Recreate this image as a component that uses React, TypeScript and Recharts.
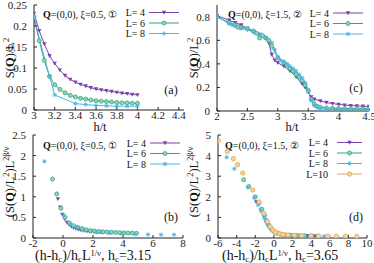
import React from 'react';
import { LineChart, Line, ScatterChart, Scatter, XAxis, YAxis } from 'recharts';

// ---- panel (a): S(Q)/L^2 vs h/t, xi = 0.5 ----
const hA = [3.0, 3.05, 3.1, 3.15, 3.2, 3.25, 3.3, 3.35, 3.4, 3.45, 3.5, 3.55, 3.6, 3.65, 3.7, 3.75, 3.8, 3.85, 3.9, 3.95, 4.0];
const sA4 = [0.23, 0.189, 0.157, 0.129, 0.111, 0.095, 0.082, 0.073, 0.066, 0.061, 0.057, 0.053, 0.05, 0.048, 0.046, 0.044, 0.042, 0.04, 0.039, 0.037, 0.036];
const sA6 = [0.222, 0.165, 0.118, 0.08, 0.06, 0.049, 0.041, 0.035, 0.031, 0.028, 0.026, 0.024, 0.022, 0.021, 0.02, 0.019, 0.018, 0.017, 0.017, 0.016, 0.016];
const hA8 = [3.0, 3.15, 3.2, 3.4, 3.5, 3.6, 3.7, 3.8, 3.9, 4.0];
const sA8 = [0.218, 0.08, 0.036, 0.015, 0.013, 0.011, 0.01, 0.009, 0.009, 0.009];
const ticksAx = [3, 3.2, 3.4, 3.6, 3.8, 4, 4.2, 4.4];
const ticksAy = [0, 0.05, 0.1, 0.15, 0.2, 0.25];

// ---- panel (c): S(Q)/L^2 vs h/t, xi = 1.5 ----
const hC4 = [2.0, 2.2, 2.3, 2.4, 2.5, 2.6, 2.7, 2.8, 2.85, 2.9, 2.95, 3.0, 3.1, 3.2, 3.3, 3.4, 3.45, 3.5, 3.55, 3.6, 3.7, 3.8, 3.9, 4.0, 4.1, 4.2, 4.3, 4.4, 4.5];
const sC4 = [0.81, 0.77, 0.75, 0.73, 0.7, 0.67, 0.65, 0.62, 0.58, 0.48, 0.43, 0.41, 0.38, 0.34, 0.29, 0.23, 0.2, 0.16, 0.12, 0.1, 0.085, 0.072, 0.063, 0.056, 0.05, 0.046, 0.043, 0.04, 0.038];
const hC6 = [2.0, 2.2, 2.3, 2.35, 2.4, 2.5, 2.6, 2.65, 2.7, 2.75, 2.8, 2.85, 2.9, 3.0, 3.1, 3.15, 3.2, 3.25, 3.3, 3.35, 3.4, 3.45, 3.5, 3.55, 3.6, 3.65, 3.7, 3.8, 3.9, 4.0, 4.1, 4.2, 4.3, 4.4, 4.5];
const sC6 = [0.8, 0.75, 0.73, 0.71, 0.71, 0.7, 0.68, 0.66, 0.62, 0.64, 0.62, 0.6, 0.55, 0.45, 0.41, 0.39, 0.36, 0.34, 0.31, 0.29, 0.26, 0.22, 0.17, 0.1, 0.06, 0.04, 0.032, 0.026, 0.023, 0.021, 0.02, 0.02, 0.02, 0.02, 0.02];
const hC8 = [2.0, 2.2, 2.25, 2.3, 2.4, 2.5, 2.6, 2.7, 2.8, 2.9, 2.95, 3.0, 3.05, 3.1, 3.15, 3.2, 3.25, 3.3, 3.35, 3.4, 3.45, 3.5, 3.55, 3.6, 3.65, 3.7, 3.8, 3.9, 4.0, 4.1, 4.2, 4.3, 4.4, 4.5];
const sC8 = [0.8, 0.74, 0.73, 0.72, 0.7, 0.69, 0.67, 0.65, 0.62, 0.58, 0.52, 0.46, 0.43, 0.42, 0.4, 0.38, 0.36, 0.34, 0.31, 0.28, 0.24, 0.18, 0.09, 0.045, 0.028, 0.02, 0.015, 0.013, 0.012, 0.012, 0.012, 0.012, 0.012, 0.012];
const ticksCx = [2, 2.5, 3, 3.5, 4, 4.5];
const ticksCy = [0, 0.2, 0.4, 0.6, 0.8];

// ---- panel (b): scaling collapse, hc = 3.15 ----
const xB4 = [-0.34, -0.19, -0.04, 0.11, 0.26, 0.41, 0.56, 0.71, 0.86, 1.01, 1.16, 1.31, 1.46, 1.61, 1.76, 1.91, 2.06, 2.21, 2.36, 2.51, 2.66];
const yB4 = [0.95, 0.75, 0.57, 0.46, 0.38, 0.32, 0.28, 0.25, 0.23, 0.21, 0.2, 0.19, 0.18, 0.17, 0.165, 0.16, 0.155, 0.15, 0.15, 0.145, 0.14];
const xB6 = [-0.7, -0.42, -0.14, 0.14, 0.42, 0.7, 0.98, 1.26, 1.54, 1.82, 2.1, 2.38, 2.66, 2.94, 3.22, 3.5, 3.78, 4.06, 4.34, 4.62, 4.9];
const yB6 = [1.43, 1.07, 0.72, 0.5, 0.37, 0.3, 0.26, 0.23, 0.2, 0.18, 0.17, 0.16, 0.15, 0.145, 0.14, 0.135, 0.13, 0.125, 0.12, 0.12, 0.115];
const xB8 = [-1.24, 0.06, 0.49, 0.92, 1.35, 2.22, 3.08, 3.94, 4.8, 5.67, 6.54, 7.4];
const yB8 = [1.86, 0.55, 0.33, 0.24, 0.19, 0.14, 0.12, 0.1, 0.09, 0.085, 0.08, 0.08];
const ticksBx = [-2, 0, 2, 4, 6, 8];
const ticksBy = [0, 0.5, 1, 1.5, 2, 2.5];

// ---- panel (d): scaling collapse, hc = 3.65 ----
const xD4 = [-1.9, -1.4, -1.1, -0.85, -0.6, -0.3, 0.0, 0.35, 0.7, 1.1, 1.6, 2.2, 2.9, 3.6, 4.4];
const yD4 = [1.75, 1.35, 1.05, 0.75, 0.55, 0.4, 0.3, 0.23, 0.19, 0.16, 0.14, 0.13, 0.12, 0.11, 0.1];
const xD6 = [-3.24, -2.7, -2.0, -1.6, -1.3, -1.0, -0.8, -0.55, -0.3, 0.0, 0.3, 0.7, 1.2, 1.8, 2.5, 3.3, 4.1];
const yD6 = [2.83, 2.5, 2.0, 1.7, 1.4, 1.1, 0.85, 0.62, 0.45, 0.32, 0.24, 0.19, 0.15, 0.13, 0.12, 0.11, 0.1];
const xD8 = [-5.07, -4.25, -2.8, -2.1, -1.7, -1.35, -1.0, -0.7, -0.45, -0.2, 0.1, 0.5, 1.0, 1.6, 2.3, 3.1, 3.9, 4.7, 5.4];
const yD8 = [3.92, 3.36, 2.46, 1.95, 1.6, 1.3, 0.95, 0.7, 0.5, 0.38, 0.27, 0.2, 0.16, 0.14, 0.12, 0.11, 0.1, 0.1, 0.09];
const xD10 = [-5.97, -5.0, -4.35, -3.9, -3.35, -2.26, -1.6, -1.1, -0.7, -0.4, -0.1, 0.2, 0.6, 1.0, 1.5, 2.2, 3.0, 4.0, 4.8, 5.8, 6.7, 7.7, 8.9];
const yD10 = [4.72, 4.2, 3.85, 3.56, 3.15, 2.33, 1.75, 1.2, 0.8, 0.55, 0.38, 0.28, 0.2, 0.17, 0.15, 0.13, 0.12, 0.11, 0.1, 0.09, 0.09, 0.09, 0.08];
const ticksDx = [-6, -4, -2, 0, 2, 4, 6, 8, 10];
const ticksDy = [0, 1, 2, 3, 4, 5];

const zip = (xs: number[], ys: number[]) => xs.map((x, i) => ({ x, y: ys[i] }));

const PURPLE = '#7d43a8';
const GREEN = '#30a57d';
const BLUE = '#4fb3e6';
const ORANGE = '#e5a552';
const FONT = '"Liberation Serif", "Times New Roman", serif';
const AXIS = '#222';

// markers
const TriDown = ({ cx, cy }: any) => (
  <polygon points={`${cx - 2.2},${cy - 1.7} ${cx + 2.2},${cy - 1.7} ${cx},${cy + 2.2}`} fill={PURPLE} />
);
const Circ = ({ cx, cy }: any) => (
  <circle cx={cx} cy={cy} r={2} fill="#93d5bb" stroke={GREEN} strokeWidth={0.8} />
);
const Star = ({ cx, cy }: any) => (
  <g stroke={BLUE} strokeWidth={0.9}>
    <line x1={cx - 2.2} y1={cy} x2={cx + 2.2} y2={cy} />
    <line x1={cx} y1={cy - 2.2} x2={cx} y2={cy + 2.2} />
    <line x1={cx - 1.6} y1={cy - 1.6} x2={cx + 1.6} y2={cy + 1.6} />
    <line x1={cx - 1.6} y1={cy + 1.6} x2={cx + 1.6} y2={cy - 1.6} />
  </g>
);
const OCirc = ({ cx, cy }: any) => (
  <circle cx={cx} cy={cy} r={2.2} fill="#f4d3a3" stroke={ORANGE} strokeWidth={0.8} />
);

const dotOf = (Shape: any) => (p: any) => <Shape key={`d${p.index}`} cx={p.cx} cy={p.cy} />;
const shapeOf = (Shape: any) => (p: any) => <Shape cx={p.cx} cy={p.cy} />;

const tickStyle = { fontSize: 11, fill: AXIS, fontFamily: FONT };

// gnuplot-like frame: labelled bottom/left axes, mirrored ticks top/right, all ticks inward
const frameAxes = (xd: number[], yd: number[], xt: number[], yt: number[], yw: number) => [
  <XAxis key="xb" xAxisId={0} type="number" dataKey="x" domain={xd} ticks={xt} allowDataOverflow
    height={22} tickSize={-3} tickMargin={4} interval={0} stroke={AXIS} tick={tickStyle} />,
  <XAxis key="xt" xAxisId="top" orientation="top" type="number" domain={xd} ticks={xt} allowDataOverflow
    height={0} tickSize={-3} interval={0} stroke={AXIS} tick={false} />,
  <YAxis key="yl" yAxisId={0} type="number" dataKey="y" domain={yd} ticks={yt} allowDataOverflow
    width={yw} tickSize={-3} tickMargin={10} interval={0} stroke={AXIS} tick={tickStyle} />,
  <YAxis key="yr" yAxisId="right" orientation="right" type="number" domain={yd} ticks={yt} allowDataOverflow
    width={0} tickSize={-3} interval={0} stroke={AXIS} tick={false} />,
];

const Legend = ({ y, items, textEnd, lineStart, lineEnd }: any) => (
  <g>
    {items.map((it: any, i: number) => {
      const yy = y + i * 10.5;
      const Shape = it.shape;
      return (
        <g key={i}>
          <text x={textEnd} y={yy + 3.5} textAnchor="end" fontSize={10} fontFamily={FONT} fill="#111">{it.label}</text>
          <line x1={lineStart} y1={yy} x2={lineEnd} y2={yy} stroke={it.color} strokeWidth={1} />
          <Shape cx={(lineStart + lineEnd) / 2} cy={yy} />
        </g>
      );
    })}
  </g>
);

const Title = ({ x, y, xi, num }: any) => (
  <text x={x} y={y} fontSize={10} fontFamily={FONT} fill="#111">
    <tspan fontWeight="bold">Q</tspan>=(0,0), ξ={xi}, <tspan fontSize={9.5}>{num}</tspan>
  </text>
);

const items3 = [
  { label: 'L= 4', color: PURPLE, shape: TriDown },
  { label: 'L= 6', color: GREEN, shape: Circ },
  { label: 'L= 8', color: BLUE, shape: Star },
];
const items4 = [...items3, { label: 'L=10', color: ORANGE, shape: OCirc }];

const Sub = ({ children }: any) => <tspan fontSize={9} dy={2.5}>{children}</tspan>;

const ScaleLabel = ({ x, hc }: any) => (
  <text x={x} y={259.5}>
    (h-h<Sub>c</Sub><tspan dy={-2.5}>)/h</tspan><Sub>c</Sub><tspan dy={-2.5}>L</tspan><tspan fontSize={8.5} dy={-4}>1/ν</tspan><tspan dy={4}>, h</tspan><Sub>c</Sub><tspan dy={-2.5}>={hc}</tspan>
  </text>
);

export default function App() {
  return (
    <div style={{ position: 'absolute', left: 0, top: 0, width: 374, height: 263, background: '#fff', overflow: 'hidden' }}>
      {/* (a) */}
      <div style={{ position: 'absolute', left: 0, top: 0 }}>
        <LineChart width={187} height={132} margin={{ top: 5, right: 3, left: 0, bottom: 0 }}>
          {frameAxes([3, 4.45], [0, 0.25], ticksAx, ticksAy, 34)}
          <Line data={zip(hA, sA4)} dataKey="y" stroke={PURPLE} strokeWidth={1} dot={dotOf(TriDown)} isAnimationActive={false} />
          <Line data={zip(hA, sA6)} dataKey="y" stroke={GREEN} strokeWidth={1} dot={dotOf(Circ)} isAnimationActive={false} />
          <Line data={zip(hA8, sA8)} dataKey="y" stroke={BLUE} strokeWidth={1} dot={dotOf(Star)} isAnimationActive={false} />
        </LineChart>
      </div>
      {/* (c) */}
      <div style={{ position: 'absolute', left: 185, top: 0 }}>
        <LineChart width={189} height={133} margin={{ top: 5, right: 5, left: 0, bottom: 0 }}>
          {frameAxes([2, 4.5], [0, 0.9], ticksCx, ticksCy, 32)}
          <Line data={zip(hC4, sC4)} dataKey="y" stroke={PURPLE} strokeWidth={1} dot={dotOf(TriDown)} isAnimationActive={false} />
          <Line data={zip(hC6, sC6)} dataKey="y" stroke={GREEN} strokeWidth={1} dot={dotOf(Circ)} isAnimationActive={false} />
          <Line data={zip(hC8, sC8)} dataKey="y" stroke={BLUE} strokeWidth={1} dot={dotOf(Star)} isAnimationActive={false} />
        </LineChart>
      </div>
      {/* (b) */}
      <div style={{ position: 'absolute', left: 0, top: 127 }}>
        <ScatterChart width={186} height={133} margin={{ top: 8, right: 3, left: 0, bottom: 0 }}>
          {frameAxes([-2, 8], [0, 2.5], ticksBx, ticksBy, 33)}
          <Scatter data={zip(xB4, yB4)} fill={PURPLE} shape={shapeOf(TriDown)} isAnimationActive={false} />
          <Scatter data={zip(xB6, yB6)} fill={GREEN} shape={shapeOf(Circ)} isAnimationActive={false} />
          <Scatter data={zip(xB8, yB8)} fill={BLUE} shape={shapeOf(Star)} isAnimationActive={false} />
        </ScatterChart>
      </div>
      {/* (d) */}
      <div style={{ position: 'absolute', left: 185, top: 127 }}>
        <ScatterChart width={189} height={133} margin={{ top: 8, right: 7, left: 0, bottom: 0 }}>
          {frameAxes([-6, 10], [0, 5], ticksDx, ticksDy, 33)}
          <Scatter data={zip(xD4, yD4)} fill={PURPLE} shape={shapeOf(TriDown)} isAnimationActive={false} />
          <Scatter data={zip(xD6, yD6)} fill={GREEN} shape={shapeOf(Circ)} isAnimationActive={false} />
          <Scatter data={zip(xD8, yD8)} fill={BLUE} shape={shapeOf(Star)} isAnimationActive={false} />
          <Scatter data={zip(xD10, yD10)} fill={ORANGE} shape={shapeOf(OCirc)} isAnimationActive={false} />
        </ScatterChart>
      </div>

      {/* annotations */}
      <svg width={374} height={263} style={{ position: 'absolute', left: 0, top: 0, pointerEvents: 'none' }}>
        <Title x={43} y={17.5} xi="0.5" num="①" />
        <Title x={228} y={17.5} xi="1.5" num="②" />
        <Title x={43} y={148.5} xi="0.5" num="①" />
        <Title x={225} y={148.5} xi="1.5" num="②" />

        <Legend y={12.5} items={items3} textEnd={145} lineStart={149} lineEnd={179} />
        <Legend y={13} items={items3} textEnd={329} lineStart={333} lineEnd={363} />
        <Legend y={143} items={items3} textEnd={146} lineStart={150} lineEnd={180} />
        <Legend y={142.5} items={items4} textEnd={328} lineStart={337} lineEnd={362} />

        <g fontFamily={FONT} fontSize={12} fill="#111" textAnchor="middle">
          <text x={171} y={94}>(a)</text>
          <text x={356} y={92}>(c)</text>
          <text x={171} y={221}>(b)</text>
          <text x={356} y={221}>(d)</text>
        </g>

        <g fontFamily={FONT} fontSize={12.5} fill="#111" textAnchor="middle">
          <text x={100} y={131}>h/t</text>
          <text x={292} y={131}>h/t</text>
          <text transform="translate(14,58) rotate(-90)">
            S(<tspan fontWeight="bold">Q</tspan>)/L<tspan fontSize={8.5} dy={-5}>2</tspan>
          </text>
          <text transform="translate(198,58) rotate(-90)">
            S(<tspan fontWeight="bold">Q</tspan>)/L<tspan fontSize={8.5} dy={-5}>2</tspan>
          </text>
          <text transform="translate(14,182) rotate(-90)">
            (S(<tspan fontWeight="bold">Q</tspan>)/L<tspan fontSize={8.5} dy={-5}>2</tspan><tspan dy={5}>)L</tspan><tspan fontSize={8} dy={-5}>2β/ν</tspan>
          </text>
          <text transform="translate(198,182) rotate(-90)">
            (S(<tspan fontWeight="bold">Q</tspan>)/L<tspan fontSize={8.5} dy={-5}>2</tspan><tspan dy={5}>)L</tspan><tspan fontSize={8} dy={-5}>2β/ν</tspan>
          </text>
        </g>
        <g fontFamily={FONT} fontSize={14} fill="#111" textAnchor="start">
          <ScaleLabel x={35} hc="3.15" />
          <ScaleLabel x={222} hc="3.65" />
        </g>
      </svg>
    </div>
  );
}
